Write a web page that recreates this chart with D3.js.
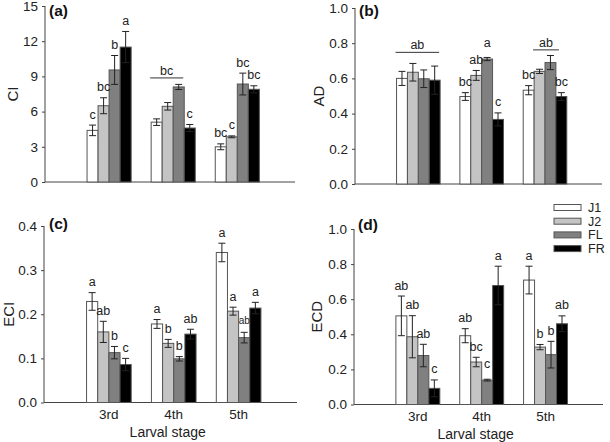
<!DOCTYPE html>
<html><head><meta charset="utf-8">
<script src="https://cdn.jsdelivr.net/npm/d3@7"></script>
<style>
html,body{margin:0;padding:0;background:#fff;}
svg{display:block;font-family:"Liberation Sans",Arial,sans-serif;}
</style></head>
<body>
<svg id="chart" width="610" height="442"></svg>
<script>
// ---------- data ----------
const stages = ["3rd", "4th", "5th"];
const series = ["J1", "J2", "FL", "FR"];

const ciMean = [[4.4, 6.5, 9.55, 11.5], [5.1, 6.45, 8.1, 4.6], [3.0, 3.85, 8.35, 7.9]];
const ciErr  = [[0.45, 0.68, 1.23, 1.33], [0.28, 0.32, 0.22, 0.3], [0.25, 0.08, 0.93, 0.3]];
const ciLetters = [["c", "bc", "b", "a"], ["", "", "", "c"], ["bc", "c", "bc", "bc"]];
const ciTicks = [0, 3, 6, 9, 12, 15];

const adMean = [[0.60, 0.635, 0.598, 0.59], [0.497, 0.617, 0.71, 0.367], [0.533, 0.64, 0.69, 0.497]];
const adErr  = [[0.04, 0.05, 0.05, 0.08], [0.022, 0.028, 0.009, 0.037], [0.026, 0.012, 0.04, 0.022]];
const adLetters = [["", "", "", ""], ["bc", "ab", "a", "c"], ["bc", "", "", "bc"]];
const adTicks = [0, 0.2, 0.4, 0.6, 0.8, 1.0];

const eciMean = [[0.229, 0.16, 0.113, 0.086], [0.178, 0.134, 0.099, 0.155], [0.34, 0.207, 0.147, 0.214]];
const eciErr  = [[0.02, 0.024, 0.014, 0.014], [0.01, 0.009, 0.005, 0.011], [0.021, 0.009, 0.012, 0.013]];
const eciLetters = [["a", "ab", "b", "c"], ["a", "b", "b", "ab"], ["a", "a", "ab", "a"]];
const eciTicks = [0, 0.1, 0.2, 0.3, 0.4];

const ecdMean = [[0.505, 0.386, 0.279, 0.092], [0.392, 0.242, 0.139, 0.678], [0.709, 0.327, 0.284, 0.46]];
const ecdErr  = [[0.113, 0.12, 0.064, 0.048], [0.04, 0.027, 0.005, 0.11], [0.079, 0.015, 0.076, 0.045]];
const ecdLetters = [["ab", "ab", "ab", "c"], ["ab", "bc", "c", "a"], ["a", "b", "b", "ab"]];
const ecdTicks = [0, 0.2, 0.4, 0.6, 0.8, 1.0];

// group brackets: [stage index, first series index, last series index, level (data units), label]
const ciBrackets = [[1, 0, 2, 8.87, "bc"]];
const adBrackets = [[0, 0, 3, 0.748, "ab"], [2, 1, 2, 0.762, "ab"]];

const seriesFill = ["#ffffff", "#c4c4c4", "#808080", "#000000"];

// ---------- layout ----------
const panels = [
  {tag: "(a)", title: "CI",  mean: ciMean,  err: ciErr,  letters: ciLetters,  ticks: ciTicks,  fmt: d3.format("d"),
   left: 45, right: 295, top: 6, bottom: 182, titleX: 13, brackets: ciBrackets, xlab: false, tagX: 49, tagY: 16},
  {tag: "(b)", title: "AD",  mean: adMean,  err: adErr,  letters: adLetters,  ticks: adTicks,  fmt: d3.format(".1f"),
   left: 355, right: 602, top: 8, bottom: 184, titleX: 319, brackets: adBrackets, xlab: false, tagX: 359, tagY: 16},
  {tag: "(c)", title: "ECI", mean: eciMean, err: eciErr, letters: eciLetters, ticks: eciTicks, fmt: d3.format(".1f"),
   left: 44, right: 297, top: 226, bottom: 402.5, titleX: 9, brackets: [], xlab: true, tagX: 49, tagY: 229},
  {tag: "(d)", title: "ECD", mean: ecdMean, err: ecdErr, letters: ecdLetters, ticks: ecdTicks, fmt: d3.format(".1f"),
   left: 354, right: 603, top: 229, bottom: 404.5, titleX: 317, brackets: [], xlab: true, tagX: 358, tagY: 230}
];

const svg = d3.select("#chart");
const axisColor = "#444";

panels.forEach((p, pi) => {
  const g = svg.append("g");
  const ymax = p.ticks[p.ticks.length - 1];
  const y = d3.scaleLinear().domain([0, ymax]).range([p.bottom, p.top]);
  const x = d3.scaleLinear().domain([0, 3.9]).range([p.left, p.right]);
  const bw = x(0.172) - x(0);
  const inner = d3.scaleBand().domain(series).range([-2 * bw, 2 * bw]);

  // y axis
  const ya = d3.axisLeft(y).tickValues(p.ticks).tickFormat(p.fmt).tickSize(3).tickPadding(4);
  const yg = g.append("g").attr("transform", `translate(${p.left},0)`).call(ya);
  yg.select(".domain").attr("stroke", axisColor).attr("d", `M-0,${p.top}V${p.bottom}`);
  yg.selectAll(".tick line").attr("stroke", axisColor);
  yg.selectAll(".tick text").attr("font-size", 13.5).attr("fill", "#222")
    .attr("font-family", "'Liberation Sans',Arial,sans-serif");

  // x axis line
  g.append("line").attr("x1", p.left).attr("x2", p.right).attr("y1", p.bottom).attr("y2", p.bottom)
    .attr("stroke", axisColor).attr("stroke-width", 1);

  // bars
  stages.forEach((st, si) => {
    series.forEach((se, k) => {
      const cx = x(si + 1) + inner(se);
      const m = p.mean[si][k];
      g.append("rect").attr("x", cx).attr("y", y(m)).attr("width", inner.bandwidth())
        .attr("height", y(0) - y(m)).attr("fill", seriesFill[k]).attr("stroke", "#555").attr("stroke-width", 1);
    });
  });
  // error bars + letters
  stages.forEach((st, si) => {
    series.forEach((se, k) => {
      const c = x(si + 1) + inner(se) + inner.bandwidth() / 2;
      const m = p.mean[si][k], e = p.err[si][k];
      const eg = g.append("g").attr("stroke", "#222").attr("stroke-width", 1);
      eg.append("line").attr("x1", c).attr("x2", c).attr("y1", y(m - e)).attr("y2", y(m + e));
      eg.append("line").attr("x1", c - 3.5).attr("x2", c + 3.5).attr("y1", y(m + e)).attr("y2", y(m + e));
      eg.append("line").attr("x1", c - 3.5).attr("x2", c + 3.5).attr("y1", y(m - e)).attr("y2", y(m - e));
      const lab = p.letters[si][k];
      if (lab) {
        let fs = 12.5, gap = 6.5;
        if (pi === 2 && si === 2 && k === 2) { fs = 10; gap = 8; }
        if (pi === 1 && si === 1 && k === 2) { gap = 10; }
        if (pi === 3 && si === 1 && k === 2) { gap = 11; }
        g.append("text").attr("x", c).attr("y", y(m + e) - gap).attr("text-anchor", "middle")
          .attr("font-size", fs).attr("fill", "#222").text(lab);
      }
    });
  });

  // brackets
  p.brackets.forEach(b => {
    const [si, a, z, level, lab] = b;
    const x1 = x(si + 1) + inner(series[a]) - 1;
    const x2 = x(si + 1) + inner(series[z]) + inner.bandwidth() + (a === 0 ? -1 : 3);
    const ly = y(level);
    g.append("line").attr("x1", x1).attr("x2", x2).attr("y1", ly).attr("y2", ly).attr("stroke", "#333");
    g.append("text").attr("x", (x1 + x2) / 2).attr("y", ly - 3).attr("text-anchor", "middle")
      .attr("font-size", 12.5).attr("fill", "#222").text(lab);
  });

  // panel tag
  g.append("text").attr("x", p.tagX).attr("y", p.tagY).attr("font-size", 15.5).attr("font-weight", "bold")
    .attr("fill", "#111").text(p.tag);

  // y title
  const ym = (p.top + p.bottom) / 2;
  g.append("text").attr("transform", `translate(${p.titleX},${ym}) rotate(-90)`).attr("dy", "0.35em")
    .attr("text-anchor", "middle").attr("font-size", 15).attr("fill", "#222").text(p.title);

  // x labels
  if (p.xlab) {
    stages.forEach((st, si) => {
      g.append("text").attr("x", x(si + 1)).attr("y", p.bottom + 16).attr("text-anchor", "middle")
        .attr("font-size", 13.5).attr("fill", "#222").text(st);
    });
    g.append("text").attr("x", x(2) - 6).attr("y", p.bottom + 34).attr("text-anchor", "middle")
      .attr("font-size", 14).attr("fill", "#222").text("Larval stage");
  }
});

// legend
const leg = svg.append("g");
series.forEach((s, k) => {
  const ly = 207.5 + k * 13.7;
  leg.append("rect").attr("x", 554).attr("y", ly - 3).attr("width", 27).attr("height", 6)
    .attr("fill", seriesFill[k]).attr("stroke", "#555").attr("stroke-width", 1);
  leg.append("text").attr("x", 588).attr("y", ly).attr("dy", "0.35em").attr("font-size", 12.5)
    .attr("fill", "#222").text(s);
});
</script>
</body></html>
